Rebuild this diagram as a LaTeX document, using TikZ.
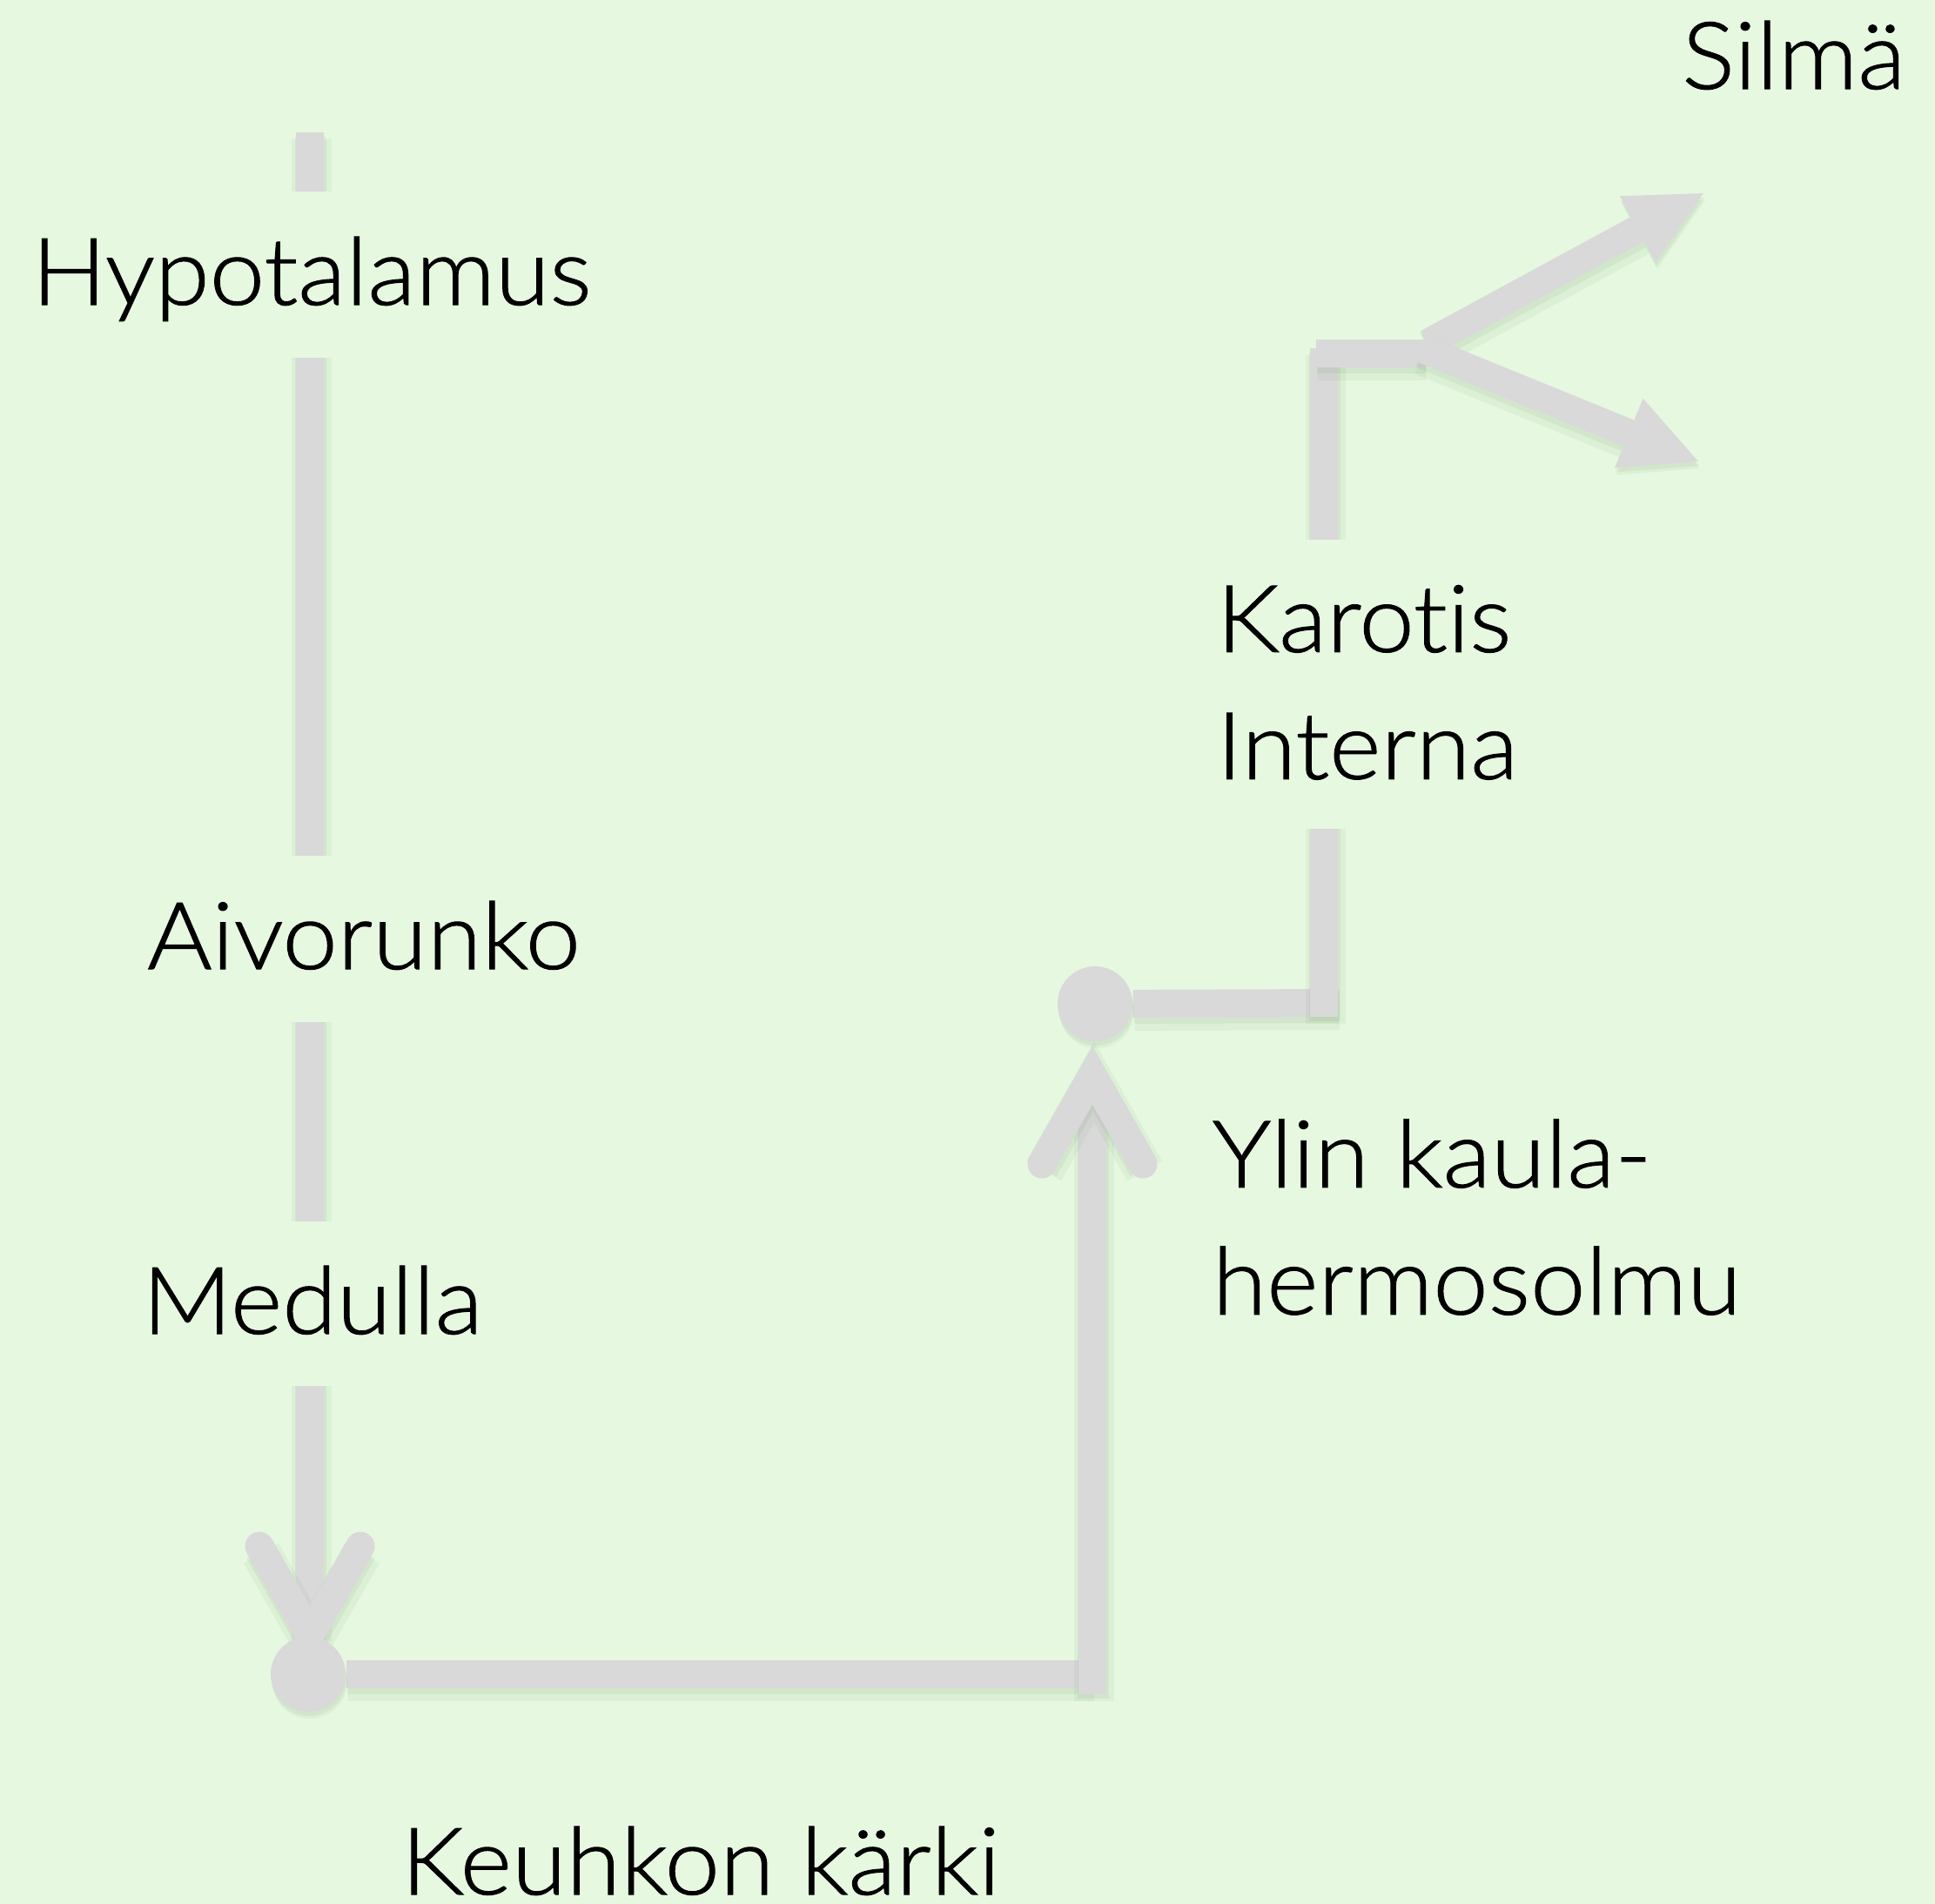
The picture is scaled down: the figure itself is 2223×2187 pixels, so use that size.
\documentclass[tikz,border=0pt]{standalone}
\usepackage{fontspec}
\setmainfont{Lato}[UprightFont=* Light, Ligatures=NoCommon, FakeStretch=1.06, FakeBold=1.0]
\usetikzlibrary{arrows.meta}
\definecolor{bgc}{RGB}{230,248,224}
\definecolor{linec}{RGB}{217,217,217}
\definecolor{shadc}{RGB}{100,140,95}
\pgfdeclarelayer{bglayer}
\pgfdeclarelayer{linelayer}
\pgfsetlayers{bglayer,linelayer,main}
\tikzset{
  shadowed/.style={
    preaction={draw=shadc, opacity=0.07, line width=0.46cm,
      transform canvas={shift={(0.02cm,-0.08cm)}}},
    preaction={draw=shadc, opacity=0.09, line width=0.36cm,
      transform canvas={shift={(0.01cm,-0.05cm)}}}},
  conn/.style={shadowed, draw=linec, line width=0.32cm},
  barbs/.style={conn, line width=0.33cm, line cap=round, line join=miter, miter limit=10},
  tri/.style={-{Triangle[length=0.86cm,width=0.86cm,line width=0pt]}},
  dotnode/.style={circle, fill=linec, inner sep=0pt, minimum size=0.86cm,
      preaction={fill=shadc, opacity=0.07, transform canvas={shift={(0.02cm,-0.08cm)}}},
      preaction={fill=shadc, opacity=0.09, transform canvas={shift={(0.01cm,-0.05cm)}}}},
  labelbox/.style={rectangle, fill=bgc, inner sep=0pt},
  lbl/.style={inner sep=0pt, text=black, font=\fontsize{30.5pt}{41.5pt}\selectfont}
}
\begin{document}
\begin{tikzpicture}[x=0.01cm,y=-0.01cm]
\begin{pgfonlayer}{bglayer}
\fill[bgc] (0,0) rectangle (2223,2187);
\end{pgfonlayer}
\useasboundingbox (0,0) rectangle (2223,2187);

% label boxes (cover the connectors)
\node[labelbox, minimum width=6.88cm, minimum height=1.91cm] (hypbox) at (358,315.5) {};
\node[labelbox, minimum width=5.45cm, minimum height=1.91cm] (aivbox) at (422.5,1078.5) {};
\node[labelbox, minimum width=4.43cm, minimum height=1.89cm] (medbox) at (359.5,1497.5) {};
\node[labelbox, minimum width=4.00cm, minimum height=3.32cm] (karbox) at (1568,786) {};

% labels
\node[lbl, anchor=base] (hyp) at (358,350) {Hypotalamus};
\node[lbl, anchor=base] (aiv) at (418,1113) {Aivorunko};
\node[lbl, anchor=base] (med) at (359,1532) {Medulla};
\node[lbl, anchor=base] (keu) at (805,2176) {Keuhkon kärki};
\node[lbl, anchor=north west, align=left] (kar) at (1397,648) {\rule{0pt}{1cm}Karotis\\Interna};
\node[lbl, anchor=north west, align=left] (ylin) at (1392,1263) {\rule{0pt}{1cm}Ylin kaula-\\hermosolmu};
\node[lbl, anchor=base east] (silma) at (2190,102) {Silmä};

% junction dots
\node[dotnode] (dotA) at (354,1923) {};
\node[dotnode] (dotB) at (1258,1153) {};

% coordinates
\coordinate (topA) at (356,152);
\coordinate (vA) at (356,1878);
\coordinate (bA1) at (298,1776);
\coordinate (bA2) at (414,1776);
\coordinate (cA) at (1255,1923);
\coordinate (footB) at (1255,1946);
\coordinate (vB) at (1255,1235);
\coordinate (bB1) at (1197,1337);
\coordinate (bB2) at (1313,1337);
\coordinate (cB) at (1537,1152);
\coordinate (footK) at (1521,1168);
\coordinate (topK) at (1521,400);
\coordinate (stubL) at (1512,406);
\coordinate (J) at (1637,406);
\coordinate (tailU) at (1640,394);
\coordinate (tipU) at (1957,222);
\coordinate (tailD) at (1632,400);
\coordinate (tipD) at (1951,530);

\begin{pgfonlayer}{linelayer}
\draw[conn] (topA) -- (vA);
\draw[barbs] (bA1) -- (vA) -- (bA2);
\draw[conn] (dotA) -- (cA);
\draw[conn] (footB) -- (vB);
\draw[barbs] (bB1) -- (vB) -- (bB2);
\draw[conn] (dotB) -- (cB);
\draw[conn] (footK) -- (topK);
\draw[conn, tri] (tailU) -- (tipU);
\draw[conn] (stubL) -- (J);
\draw[conn, tri] (tailD) -- (tipD);
\end{pgfonlayer}
\end{tikzpicture}
\end{document}
